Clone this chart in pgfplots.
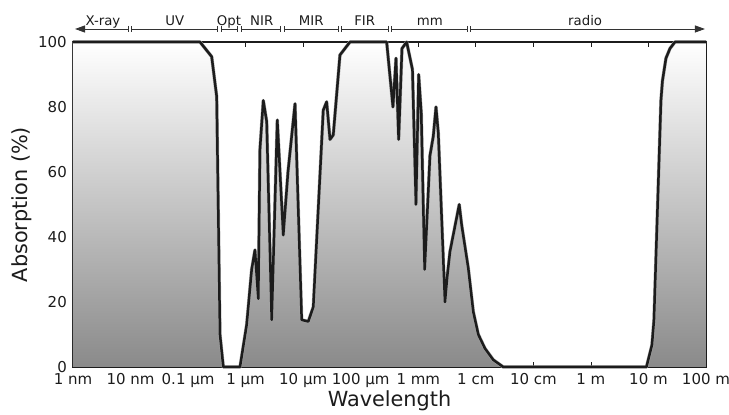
\documentclass[border=0pt]{standalone}
\usepackage{fontspec}
\setmainfont{DejaVu Sans}
\usepackage{pgfplots}
\pgfplotsset{compat=1.18}
\usepgfplotslibrary{fillbetween}
\usetikzlibrary{arrows.meta}
\definecolor{ink}{HTML}{1C1C1C}
\definecolor{shadebot}{HTML}{8A8A8A}

% x = log10(wavelength / m), y = absorption in %
\pgfplotstableread{
lam A
-9.000 100
-6.793 100
-6.590 95.5
-6.503 83.2
-6.446 10
-6.388 0
-6.098 0
-5.982 13
-5.895 30
-5.838 36
-5.780 21
-5.751 67
-5.693 82
-5.634 75.5
-5.547 14.5
-5.450 76
-5.346 40.6
-5.264 60
-5.142 81
-5.026 14.5
-4.911 14
-4.824 18.5
-4.651 79
-4.592 81.6
-4.534 70
-4.477 71.4
-4.361 96
-4.187 100
-3.549 100
-3.440 80
-3.387 95
-3.341 70
-3.283 98
-3.202 100
-3.101 91.5
-3.040 50
-2.993 90
-2.948 78
-2.889 30
-2.797 65
-2.739 71
-2.692 80
-2.652 72
-2.536 20
-2.496 28
-2.449 35.5
-2.288 50
-2.246 43.7
-2.131 30.4
-2.044 17
-1.957 10
-1.841 5.7
-1.697 2.2
-1.523 0
0.965 0
1.061 6.8
1.096 14.5
1.217 82
1.243 88
1.304 95
1.374 98
1.460 100
2.000 100
}\absdata

\begin{document}
\begin{tikzpicture}[
    band/.style={draw=ink!90, line width=0.9pt},
    lab/.style={anchor=base, font=\fontsize{13.3}{15}\selectfont, text=ink, inner sep=0pt},
]
\useasboundingbox (-73pt,-48pt) rectangle (656pt,367pt);
\begin{axis}[
    at={(0pt,0pt)}, anchor=south west,
    scale only axis,
    width=633pt, height=325pt,
    xmin=-9, xmax=2, ymin=0, ymax=100,
    clip=false,
    axis line style={ink, line width=1.2pt},
    tick align=inside,
    major tick length=5pt,
    tick style={ink, line width=0.8pt},
    xtick={-9,...,2},
    xticklabels={1 nm,10 nm,0.1 µm,1 µm,10 µm,100 µm,1 mm,1 cm,10 cm,1 m,10 m,100 m},
    ytick={0,20,...,100},
    /pgf/number format/assume math mode=true,
    ticklabel style={font=\fontsize{15}{18}\selectfont, text=ink, inner sep=0pt},
    xticklabel style={anchor=base, yshift=-18pt},
    yticklabel style={anchor=east, xshift=-6pt},
]
\addplot[draw=none, top color=white, bottom color=shadebot] table[x=lam, y=A] {\absdata} \closedcycle;
\addplot[gray!70, line width=3.4pt, line join=round] table[x=lam, y=A] {\absdata};
\addplot[ink, line width=2.5pt, line join=round] table[x=lam, y=A] {\absdata};

% band annotations above the axis
\draw[band, {Triangle[length=10pt,width=7pt]}-{Bar[width=6pt]}] (axis cs:-8.965,104) -- (axis cs:-8.033,104);
\draw[band, {Bar[width=6pt]}-{Bar[width=6pt]}] (axis cs:-7.987,104) -- (axis cs:-6.481,104);
\draw[band, {Bar[width=6pt]}-{Bar[width=6pt]}] (axis cs:-6.435,104) -- (axis cs:-6.133,104);
\draw[band, {Bar[width=6pt]}-{Bar[width=6pt]}] (axis cs:-6.087,104) -- (axis cs:-5.379,104);
\draw[band, {Bar[width=6pt]}-{Bar[width=6pt]}] (axis cs:-5.333,104) -- (axis cs:-4.384,104);
\draw[band, {Bar[width=6pt]}-{Bar[width=6pt]}] (axis cs:-4.338,104) -- (axis cs:-3.515,104);
\draw[band, {Bar[width=6pt]}-{Bar[width=6pt]}] (axis cs:-3.469,104) -- (axis cs:-2.142,104);
\draw[band, {Bar[width=6pt]}-{Triangle[length=10pt,width=7pt]}] (axis cs:-2.096,104) -- (axis cs:1.982,104);
\node[lab] at (axis cs:-8.48,105.2) {X-ray};
\node[lab] at (axis cs:-7.23,105.2) {UV};
\node[lab] at (axis cs:-6.29,105.2) {Opt};
\node[lab] at (axis cs:-5.72,105.2) {NIR};
\node[lab] at (axis cs:-4.86,105.2) {MIR};
\node[lab] at (axis cs:-3.93,105.2) {FIR};
\node[lab] at (axis cs:-2.80,105.2) {mm};
\node[lab] at (axis cs:-0.10,105.2) {radio};
\end{axis}
\node[anchor=base, font=\fontsize{20.8}{24}\selectfont, text=ink] at (316.5pt,-40pt) {Wavelength};
\node[rotate=90, font=\fontsize{20.8}{24}\selectfont, text=ink] at (-51pt,162.5pt) {Absorption (\%)};
\end{tikzpicture}
\end{document}
